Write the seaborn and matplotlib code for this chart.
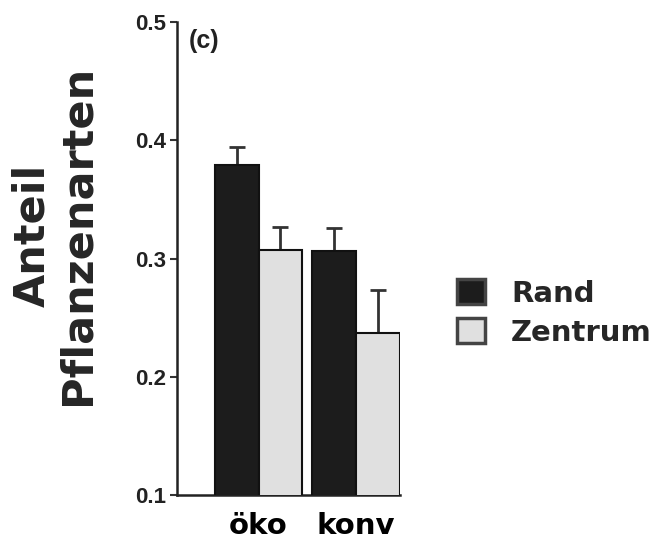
import pandas as pd
import matplotlib.pyplot as plt
import seaborn as sns

# values
systems = ['öko', 'konv']
lagen = ['Rand', 'Zentrum']
rand_mean = [0.379, 0.306]
zentrum_mean = [0.307, 0.237]
rand_err = [0.015, 0.020]
zentrum_err = [0.020, 0.036]
yticks = [0.1, 0.2, 0.3, 0.4, 0.5]

df = pd.DataFrame({
    'System': systems * 2,
    'Lage': ['Rand'] * len(systems) + ['Zentrum'] * len(systems),
    'Anteil': rand_mean + zentrum_mean,
})
errors = {'Rand': rand_err, 'Zentrum': zentrum_err}

sns.set_style('white')
plt.rcParams['font.family'] = ['DejaVu Sans']

fig = plt.figure(figsize=(6.53, 5.43), dpi=100)
ax = fig.add_axes([0.271, 0.0884, 0.3415, 0.871])

sns.barplot(data=df, x='System', y='Anteil', hue='Lage', order=systems,
            hue_order=lagen, palette=['#1c1c1c', '#e0e0e0'], width=0.9,
            edgecolor='#111111', linewidth=1.5, errorbar=None, ax=ax, zorder=3)

# one-sided error bars, drawn behind the bars so only the upper half shows
for cont, lage in zip(ax.containers, lagen):
    xs = [b.get_x() + b.get_width() / 2 for b in cont]
    ys = [b.get_height() for b in cont]
    ax.errorbar(xs, ys, yerr=[[0] * len(ys), errors[lage]], fmt='none',
                ecolor='#333333', elinewidth=2, capsize=6, capthick=2, zorder=2)

ax.set_xlim(-0.836, 1.45)
ax.set_ylim(0.1, 0.5)
ax.set_yticks(yticks)
ax.set_yticklabels([f'{t:.1f}' for t in yticks], family='Liberation Sans',
                   fontweight='bold', fontsize=16, color='#222222')
ax.tick_params(axis='y', direction='out', length=5, width=1.5, color='#333333', pad=3, left=True)
ax.tick_params(axis='x', length=0, pad=12)
ax.set_xticks(range(len(systems)))
ax.set_xticklabels(systems, fontsize=21, fontweight='bold', color='black')

for side in ['top', 'right']:
    ax.spines[side].set_visible(False)
for side in ['left', 'bottom']:
    ax.spines[side].set_linewidth(1.8)
    ax.spines[side].set_color('#222222')

ax.set_xlabel('')
ax.set_ylabel('')
fig.text(55 / 653, 1 - 235 / 543, 'Anteil\nPflanzenarten', rotation=90,
         ha='center', va='center', multialignment='center', linespacing=1.1,
         fontsize=31, fontweight='bold')

ax.text(0.055, 0.985, '(c)', transform=ax.transAxes, family='Liberation Sans',
        fontweight='bold', fontsize=18, color='#222222', va='top')

handles, labels = ax.get_legend_handles_labels()
for h in handles:
    h.set_edgecolor('#444444')
    h.set_linewidth(2.5)
ax.legend(handles, labels, loc='center left', bbox_to_anchor=(457 / 653, 1 - 313 / 543),
          bbox_transform=fig.transFigure, frameon=False, borderpad=0, borderaxespad=0,
          handlelength=0.95, handleheight=0.95, handletextpad=0.9, labelspacing=0.35,
          prop={'weight': 'bold', 'size': 21})

fig.savefig('out.png', dpi=100)
plt.close(fig)
